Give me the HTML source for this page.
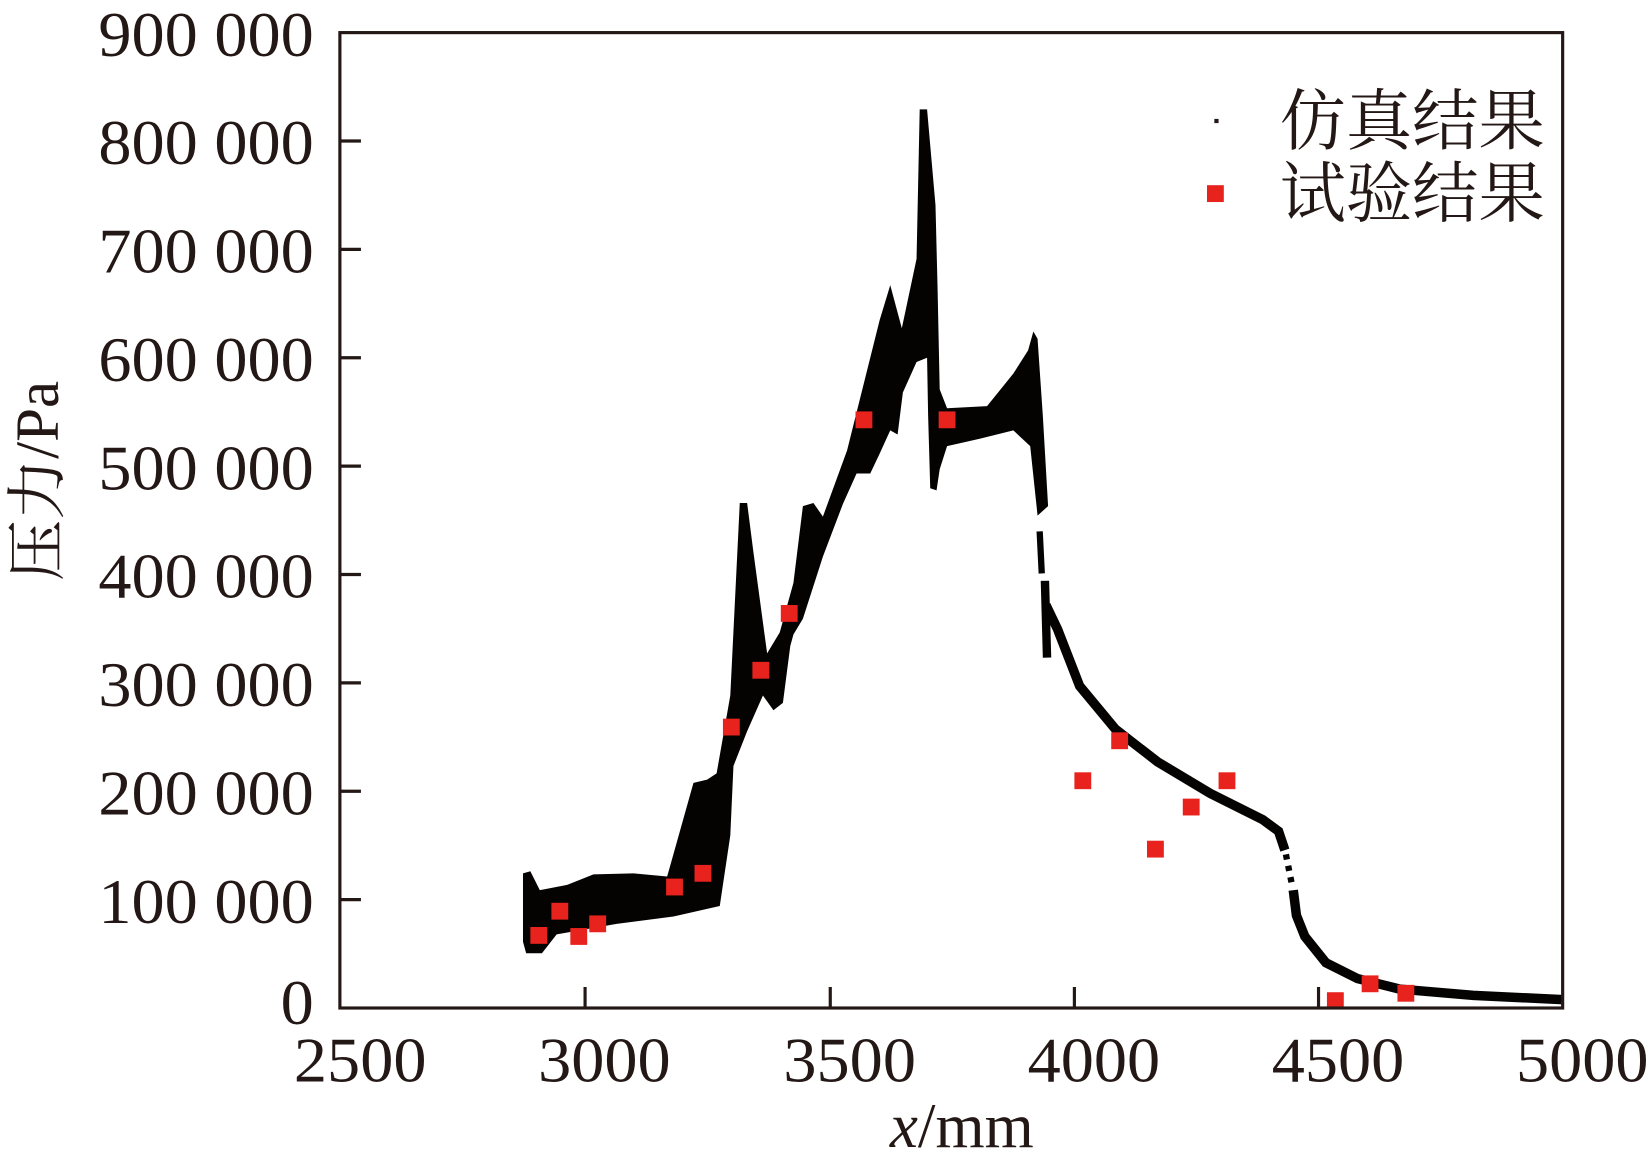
<!DOCTYPE html>
<html><head><meta charset="utf-8"><style>html,body{margin:0;padding:0;background:#fff}svg{display:block}</style></head>
<body>
<svg width="1650" height="1169" viewBox="0 0 1568 1111" preserveAspectRatio="none" xmlns="http://www.w3.org/2000/svg">
<rect width="1568" height="1111" fill="#fff"/>
<polygon fill="#050202" points="497,830 504,828 513,846 539,841 564,831 602,830 634,833 643,801 659,744 672,741 681,735 694,661 703,478 710,478 716,525 729,621 741,601 754,554 763,481 773,478 782,491 805,428 836,304 846,271 857,312 871,246 874,104 881,104 889,195 891,275 893,370 900,388 938,386 963,355 977,333 982,315 986,322 991,395 996,481 986,490 979,424 963,409 931,417 900,424 893,446 890,466 884,464 882,395 881,340 871,344 858,373 853,413 846,409 836,431 827,450 814,450 801,479 782,529 763,588 754,603 751,614 744,668 735,675 725,661 710,695 697,728 694,794 684,861 640,871 586,878 529,888 515,906 500,906 497,895"/>
<g stroke="#050202" fill="none">
<path d="M988,505 L990,545" stroke-width="6"/>
<path d="M993,552 L995,625" stroke-width="8"/>
<path d="M994,575 L1005,598 L1026,652 L1060,693 L1100,724 L1150,754 L1200,779 L1215,790 L1221,808" stroke-width="9"/>
<path d="M1222,812 L1228,842" stroke-width="6" stroke-dasharray="5,6"/>
<path d="M1229,846 L1232,870 L1240,890 L1260,915 L1290,930 L1330,940 L1400,946 L1485,950" stroke-width="9"/>
</g>
<g fill="#e8231d">
<rect x="504" y="881" width="16" height="16"/><rect x="524" y="858" width="16" height="16"/><rect x="542" y="882" width="16" height="16"/><rect x="560" y="870" width="16" height="16"/><rect x="633" y="835" width="16" height="16"/><rect x="660" y="822" width="16" height="16"/><rect x="687" y="683" width="16" height="16"/><rect x="715" y="629" width="16" height="16"/><rect x="742" y="575" width="16" height="16"/><rect x="813" y="391" width="16" height="16"/><rect x="892" y="391" width="16" height="16"/><rect x="1021" y="734" width="16" height="16"/><rect x="1056" y="696" width="16" height="16"/><rect x="1090" y="799" width="16" height="16"/><rect x="1124" y="759" width="16" height="16"/><rect x="1158" y="734" width="16" height="16"/><rect x="1261" y="943" width="16" height="16"/><rect x="1294" y="927" width="16" height="16"/><rect x="1328" y="936" width="16" height="16"/>
<rect x="1147" y="176" width="16" height="16"/>
</g>
<rect x="1154" y="113" width="4" height="4" fill="#231815"/>
<g stroke="#231815" stroke-width="3" fill="none">
<rect x="323" y="31" width="1162" height="927"/>
<path d="M556,958 v-20 M789,958 v-20 M1021,958 v-20 M1253,958 v-20 M323,855 h20 M323,752 h20 M323,649 h20 M323,546 h20 M323,443 h20 M323,340 h20 M323,237 h20 M323,134 h20"/>
</g>
<g font-family="Liberation Serif, serif" font-size="60" fill="#231815" text-anchor="end">
<g transform="scale(1.05,1)">
<text x="284" y="53">900 000</text><text x="284" y="156">800 000</text><text x="284" y="259">700 000</text><text x="284" y="362">600 000</text><text x="284" y="465">500 000</text><text x="284" y="568">400 000</text><text x="284" y="671">300 000</text><text x="284" y="774">200 000</text><text x="284" y="877">100 000</text><text x="284" y="973">0</text>
</g>
</g>
<g font-family="Liberation Serif, serif" font-size="60" fill="#231815" text-anchor="middle">
<g transform="scale(1.05,1)">
<text x="326" y="1028">2500</text><text x="547" y="1028">3000</text><text x="769" y="1028">3500</text><text x="990" y="1028">4000</text><text x="1211" y="1028">4500</text><text x="1432" y="1028">5000</text>
</g>
<text x="914" y="1090"><tspan font-style="italic">x</tspan>/mm</text>
</g>
<text transform="translate(55,457) rotate(-90)" text-anchor="middle" font-family="Liberation Serif, Noto Serif CJK SC, serif" font-size="58" fill="#231815">压力/Pa</text>
<g font-family="Liberation Serif, Noto Serif CJK SC, serif" font-size="63" fill="#231815">
<text x="1216" y="137">仿真结果</text>
<text x="1216" y="206">试验结果</text>
</g>
</svg>
</body></html>
